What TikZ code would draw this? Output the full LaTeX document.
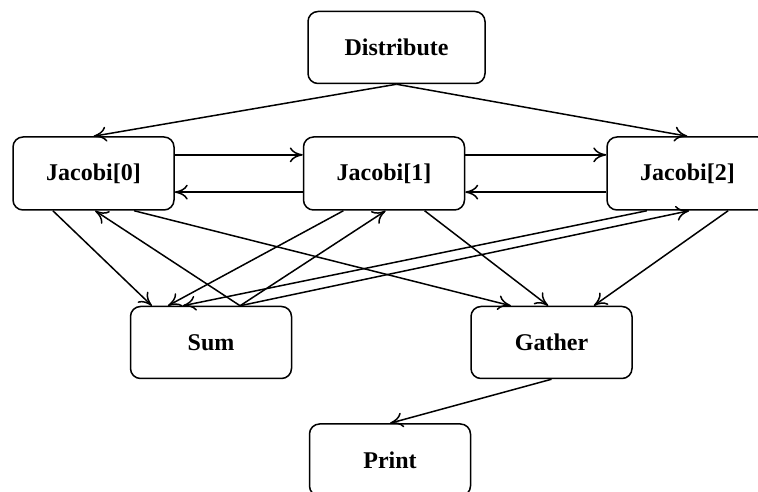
\documentclass[tikz,border=0pt]{standalone}
\usepackage{fontspec}
\setmainfont{Liberation Serif}
\usetikzlibrary{calc,arrows.meta}
\begin{document}
\begin{tikzpicture}[x=1pt,y=1pt,
  box/.style={draw, line width=1.5pt, rounded corners=10pt, minimum width=161pt,
    minimum height=72pt, inner sep=0pt,
    font=\fontsize{24}{28}\selectfont\bfseries},
  conn/.style={line width=1.5pt, -{Computer Modern Rightarrow[length=13pt,width=15pt,line width=1.5pt]}}]
\useasboundingbox (0,0) rectangle (758,492);
\clip (0,0) rectangle (758,492);
\node[box, minimum width=177pt] (D) at (396.5,444.5) {Distribute};
\node[box, minimum height=73pt] (J0) at (93.5,318.5) {Jacobi[0]};
\node[box, minimum height=73pt] (J1) at (384,318.5) {Jacobi[1]};
\node[box, minimum height=73pt] (J2) at (687.5,318.5) {Jacobi[2]};
\node[box] (S) at (211,149.5) {Sum};
\node[box] (G) at (551.5,149.5) {Gather};
\node[box] (P) at (390,32) {Print};
% anchor points
\foreach \n in {J0,J1,J2}{
  \coordinate (\n b1) at ($(\n.south west)!0.25!(\n.south east)$);
  \coordinate (\n b2) at ($(\n.south west)!0.51!(\n.south east)$);
  \coordinate (\n b3) at ($(\n.south west)!0.75!(\n.south east)$);
  \coordinate (\n eu) at ($(\n.north east)!0.25!(\n.south east)$);
  \coordinate (\n el) at ($(\n.north east)!0.75!(\n.south east)$);
  \coordinate (\n wu) at ($(\n.north west)!0.25!(\n.south west)$);
  \coordinate (\n wl) at ($(\n.north west)!0.75!(\n.south west)$);
}
\coordinate (S1) at ($(S.north west)!0.136!(S.north east)$);
\coordinate (S2) at ($(S.north west)!0.235!(S.north east)$);
\coordinate (S3) at ($(S.north west)!0.327!(S.north east)$);
\coordinate (S4) at ($(S.north west)!0.679!(S.north east)$);
\coordinate (G1) at ($(G.north west)!0.25!(G.north east)$);
\coordinate (G2) at ($(G.north west)!0.48!(G.north east)$);
\coordinate (G3) at ($(G.north west)!0.76!(G.north east)$);
% connectors
\draw[conn] (D.south) -- (J0.north);
\draw[conn] (D.south) -- (J2.north);
\draw[conn] (J0eu) -- (J1wu);
\draw[conn] (J1wl) -- (J0el);
\draw[conn] (J1eu) -- (J2wu);
\draw[conn] (J2wl) -- (J1el);
\draw[conn] (J0b1) -- (S1);
\draw[conn] (J1b1) -- (S2);
\draw[conn] (J2b1) -- (S3);
\draw[conn] (S4) -- (J0b2);
\draw[conn] (S4) -- (J1b2);
\draw[conn] (S4) -- (J2b2);
\draw[conn] (J0b3) -- (G1);
\draw[conn] (J1b3) -- (G2);
\draw[conn] (J2b3) -- (G3);
\draw[conn] (G.south) -- (P.north);
\end{tikzpicture}
\end{document}
